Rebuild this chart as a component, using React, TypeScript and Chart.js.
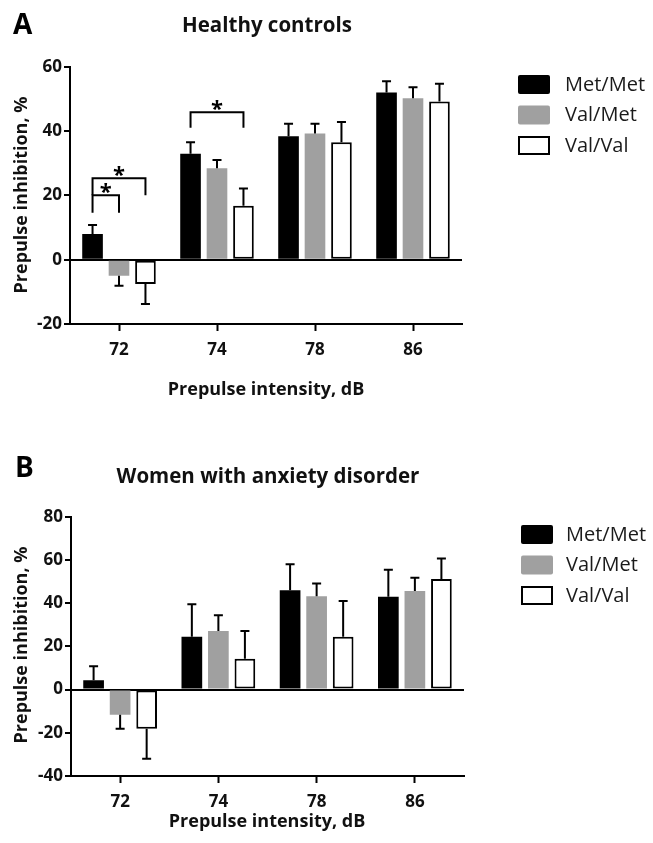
import React, { useEffect, useRef } from "react";
import { Chart, registerables } from "chart.js";

Chart.register(...registerables);

// ---------- data ----------
const categories = ["72", "74", "78", "86"];
const seriesLabels = ["Met/Met", "Val/Met", "Val/Val"];

// Panel A: Healthy controls (mean, SEM)
const healthyMetMet = [8.0, 32.9, 38.4, 52.0];
const healthyValMet = [-5.0, 28.4, 39.2, 50.2];
const healthyValVal = [-7.6, 16.8, 36.5, 49.2];
const healthyMetMetErr = [2.8, 3.6, 3.9, 3.5];
const healthyValMetErr = [3.1, 2.6, 3.1, 3.4];
const healthyValValErr = [6.2, 5.3, 6.3, 5.5];
const healthyTicks = { min: -20, max: 60, step: 20 };

// Panel B: Women with anxiety disorder (mean, SEM)
const anxietyMetMet = [4.3, 24.4, 46.0, 42.9];
const anxietyValMet = [-11.6, 27.1, 43.2, 45.6];
const anxietyValVal = [-18.1, 14.3, 24.4, 51.2];
const anxietyMetMetErr = [6.5, 15.1, 12.0, 12.6];
const anxietyValMetErr = [6.5, 7.3, 5.9, 6.1];
const anxietyValValErr = [13.9, 12.8, 16.6, 9.4];
const anxietyTicks = { min: -40, max: 80, step: 20 };

// significance brackets: [category, fromSeries, toSeries, topValue, leftLegEnd, rightLegEnd]
const healthyBrackets: number[][] = [
  [0, 0, 1, 20, 14.6, 14.6],
  [0, 0, 2, 25.3, 20, 20],
  [1, 0, 2, 45.8, 41, 41],
];
const anxietyBrackets: number[][] = [];

const FONT = "'Open Sans', 'DejaVu Sans', sans-serif";
const fills = ["#000000", "#a0a0a0", "#ffffff"];

type Layout = {
  top: number;
  height: number;
  area: { left: number; right: number; top: number; bottom: number };
  letterPos: [number, number];
  titlePos: [number, number];
  yTitlePos: [number, number];
  xTitlePos: [number, number];
  legend: { x: number; y: number; gap: number; textX: number };
};

type PanelProps = {
  letter: string;
  title: string;
  series: number[][];
  errors: number[][];
  ticks: { min: number; max: number; step: number };
  brackets: number[][];
  layout: Layout;
};

function Panel(p: PanelProps) {
  const ref = useRef<HTMLCanvasElement>(null);
  useEffect(() => {
    const canvas = ref.current!;
    const L = p.layout;
    const W = 653;
    const H = L.height;

    const datasets = p.series.map((vals, i) => ({
      label: seriesLabels[i],
      data: vals,
      backgroundColor: fills[i],
      borderColor: i === 2 ? "#000000" : fills[i],
      borderWidth: i === 2 ? 2 : 0,
      borderSkipped: false,
      categoryPercentage: 0.81,
      barPercentage: 0.78,
    }));

    const errorPlugin = {
      id: "errorBars",
      afterDatasetsDraw(chart: any) {
        const ctx = chart.ctx;
        const ys = chart.scales.y;
        ctx.save();
        ctx.strokeStyle = "#000";
        ctx.lineWidth = 2;
        p.errors.forEach((errs, di) => {
          const meta = chart.getDatasetMeta(di);
          meta.data.forEach((bar: any, j: number) => {
            const v = p.series[di][j];
            const e = errs[j];
            const end = v >= 0 ? v + e : v - e;
            const x = bar.x;
            const y0 = ys.getPixelForValue(v);
            const y1 = ys.getPixelForValue(end);
            ctx.beginPath();
            ctx.moveTo(x, y0);
            ctx.lineTo(x, y1);
            ctx.moveTo(x - 4.5, y1);
            ctx.lineTo(x + 4.5, y1);
            ctx.stroke();
          });
        });
        ctx.restore();
      },
    };

    const decoPlugin = {
      id: "deco",
      afterDraw(chart: any) {
        const ctx = chart.ctx;
        const ys = chart.scales.y;
        ctx.save();
        ctx.fillStyle = "#000";
        // panel letter
        ctx.font = `bold 28px ${FONT}`;
        ctx.textAlign = "left";
        ctx.textBaseline = "alphabetic";
        ctx.fillText(p.letter, L.letterPos[0], L.letterPos[1]);
        // title
        ctx.font = `bold 20.5px ${FONT}`;
        ctx.textAlign = "center";
        ctx.textBaseline = "middle";
        ctx.fillStyle = "#111";
        ctx.fillText(p.title, L.titlePos[0], L.titlePos[1]);
        // x title
        ctx.font = `bold 18px ${FONT}`;
        ctx.fillText("Prepulse intensity, dB", L.xTitlePos[0], L.xTitlePos[1]);
        // y title
        ctx.save();
        ctx.translate(L.yTitlePos[0], L.yTitlePos[1]);
        ctx.rotate(-Math.PI / 2);
        ctx.fillText("Prepulse inhibition, %", 0, 0);
        ctx.restore();
        // legend
        ctx.font = `20px ${FONT}`;
        ctx.textAlign = "left";
        ctx.textBaseline = "middle";
        seriesLabels.forEach((lab, i) => {
          const by = L.legend.y + i * L.legend.gap;
          ctx.beginPath();
          if (i === 2) {
            ctx.rect(L.legend.x + 1, by + 1, 30, 17);
            ctx.fillStyle = "#fff";
            ctx.fill();
            ctx.lineWidth = 2;
            ctx.strokeStyle = "#000";
            ctx.stroke();
          } else {
            (ctx as any).roundRect
              ? (ctx as any).roundRect(L.legend.x, by, 32, 19, 2)
              : ctx.rect(L.legend.x, by, 32, 19);
            ctx.fillStyle = fills[i];
            ctx.fill();
          }
          ctx.fillStyle = "#1a1a1a";
          ctx.fillText(lab, L.legend.textX, by + 10);
        });
        // significance brackets
        ctx.strokeStyle = "#000";
        ctx.lineWidth = 2;
        ctx.fillStyle = "#000";
        p.brackets.forEach(([cat, a, b, top, legA, legB]) => {
          const xa = chart.getDatasetMeta(a).data[cat].x;
          const xb = chart.getDatasetMeta(b).data[cat].x;
          const yt = ys.getPixelForValue(top);
          ctx.beginPath();
          ctx.moveTo(xa, ys.getPixelForValue(legA));
          ctx.lineTo(xa, yt);
          ctx.lineTo(xb, yt);
          ctx.lineTo(xb, ys.getPixelForValue(legB));
          ctx.stroke();
          ctx.font = `bold 22px ${FONT}`;
          ctx.textAlign = "center";
          ctx.textBaseline = "alphabetic";
          ctx.fillText("*", (xa + xb) / 2, yt + 4);
        });
        ctx.restore();
      },
    };

    const chart = new Chart(canvas, {
      type: "bar",
      data: { labels: categories, datasets: datasets as any },
      plugins: [errorPlugin, decoPlugin],
      options: {
        animation: false,
        responsive: false,
        maintainAspectRatio: false,
        layout: {
          padding: { top: L.area.top, right: W - L.area.right, left: 0, bottom: 0 },
        },
        plugins: {
          legend: { display: false },
          title: { display: false },
          tooltip: { enabled: false },
        },
        scales: {
          x: {
            type: "category",
            offset: true,
            grid: {
              offset: false,
              drawOnChartArea: false,
              drawTicks: true,
              tickLength: 7,
              tickWidth: 2,
              tickColor: "#000",
            },
            border: { display: true, color: "#000", width: 2 },
            ticks: {
              color: "#111",
              font: { family: FONT, size: 17, weight: "bold" },
              padding: 9,
              maxRotation: 0,
            },
            afterFit: (scale: any) => {
              scale.height = H - L.area.bottom;
            },
          },
          y: {
            min: p.ticks.min,
            max: p.ticks.max,
            grid: {
              drawOnChartArea: true,
              color: (c: any) => (c.tick && c.tick.value === 0 ? "#000" : "rgba(0,0,0,0)"),
              lineWidth: 2,
              drawTicks: true,
              tickLength: 6,
              tickWidth: 2,
              tickColor: "#000",
            },
            border: { display: true, color: "#000", width: 2 },
            ticks: {
              stepSize: p.ticks.step,
              color: "#111",
              font: { family: FONT, size: 17, weight: "bold" },
              padding: 2,
            },
            afterFit: (scale: any) => {
              scale.width = L.area.left;
            },
          },
        },
      } as any,
    });
    return () => chart.destroy();
  }, []);

  return (
    <canvas
      ref={ref}
      width={653}
      height={p.layout.height}
      style={{
        position: "absolute",
        left: 0,
        top: p.layout.top,
        width: 653,
        height: p.layout.height,
        display: "block",
      }}
    />
  );
}

const layoutA: Layout = {
  top: 0,
  height: 420,
  area: { left: 70, right: 462, top: 66.7, bottom: 324 },
  letterPos: [13, 34],
  titlePos: [267, 26],
  yTitlePos: [22, 195],
  xTitlePos: [266, 390],
  legend: { x: 518, y: 75, gap: 30.5, textX: 565 },
};

const layoutB: Layout = {
  top: 420,
  height: 423,
  area: { left: 71, right: 464, top: 96.7, bottom: 356 },
  letterPos: [15, 57],
  titlePos: [268, 57],
  yTitlePos: [22, 225],
  xTitlePos: [267, 402],
  legend: { x: 521, y: 105, gap: 30.5, textX: 566 },
};

export default function App() {
  return (
    <div style={{ position: "absolute", left: 0, top: 0, width: 653, height: 843, background: "#fff" }}>
      <Panel
        letter="A"
        title="Healthy controls"
        series={[healthyMetMet, healthyValMet, healthyValVal]}
        errors={[healthyMetMetErr, healthyValMetErr, healthyValValErr]}
        ticks={healthyTicks}
        brackets={healthyBrackets}
        layout={layoutA}
      />
      <Panel
        letter="B"
        title="Women with anxiety disorder"
        series={[anxietyMetMet, anxietyValMet, anxietyValVal]}
        errors={[anxietyMetMetErr, anxietyValMetErr, anxietyValValErr]}
        ticks={anxietyTicks}
        brackets={anxietyBrackets}
        layout={layoutB}
      />
    </div>
  );
}
